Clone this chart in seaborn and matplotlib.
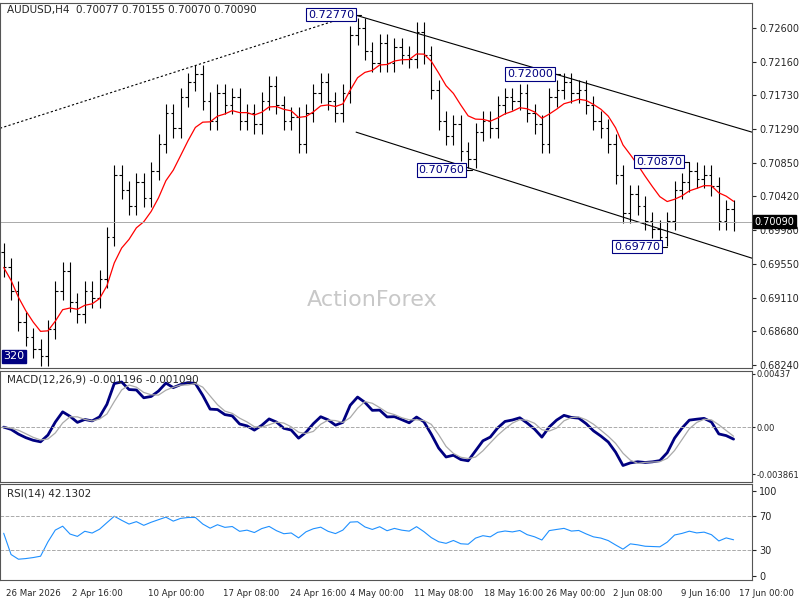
import matplotlib
matplotlib.use("Agg")
import matplotlib.pyplot as plt
import seaborn as sns
import pandas as pd
import numpy as np

sns.set_style("white")
plt.rcParams['font.family'] = ['DejaVu Sans']

# closing prices (compressed H4 bars)
closes = [0.6950, 0.6920, 0.6880, 0.6860, 0.6845, 0.6835,
          0.6870, 0.6920, 0.6945, 0.6905, 0.6890, 0.6920, 0.6910,
          0.6935, 0.6990, 0.7070,
          0.7050, 0.7030, 0.7060, 0.7040, 0.7075,
          0.7110, 0.7150, 0.7130, 0.7170, 0.7190,
          0.7200, 0.7165, 0.7140, 0.7175, 0.7160,
          0.7170, 0.7140, 0.7150, 0.7135, 0.7165,
          0.7185, 0.7160, 0.7140, 0.7145, 0.7110,
          0.7150, 0.7175, 0.7190, 0.7165, 0.7150,
          0.7175, 0.7250, 0.7260, 0.7230, 0.7215,
          0.7240, 0.7215, 0.7235, 0.7225, 0.7220,
          0.7255, 0.7225, 0.7180, 0.7140, 0.7120,
          0.7135, 0.7100, 0.7090, 0.7125, 0.7140,
          0.7130, 0.7160, 0.7170, 0.7165, 0.7175,
          0.7150, 0.7135, 0.7110, 0.7170, 0.7180,
          0.7190, 0.7175, 0.7180, 0.7160, 0.7140,
          0.7130, 0.7110, 0.7070, 0.7020, 0.7045,
          0.7030, 0.7010, 0.7000, 0.6990, 0.7010,
          0.7050, 0.7060, 0.7075, 0.7065, 0.7070,
          0.7055, 0.7010, 0.7025, 0.7009]
price_ticks = [0.72600, 0.72160, 0.71730, 0.71290, 0.70850, 0.70420,
               0.69980, 0.69550, 0.69110, 0.68680, 0.68240]
date_labels = ["26 Mar 2026", "2 Apr 16:00", "10 Apr 00:00", "17 Apr 08:00",
               "24 Apr 16:00", "4 May 00:00", "11 May 08:00", "18 May 16:00",
               "26 May 00:00", "2 Jun 08:00", "9 Jun 16:00", "17 Jun 00:00"]
date_pos = [0.3, 9.2, 19.6, 29.7, 38.9, 47.0, 55.7, 65.1, 73.5, 82.6, 91.9, 99.7]
levels = [(47.5, 0.7277, "0.72770"), (62.5, 0.7076, "0.70760"),
          (74.5, 0.7200, "0.72000"), (89.0, 0.6977, "0.69770"),
          (92.0, 0.7087, "0.70870")]

n = len(closes)
df = pd.DataFrame({"bar": np.arange(n), "close": closes})
df["open"] = df["close"].shift(1).fillna(closes[0] + 0.002)
df["high"] = df[["open", "close"]].max(axis=1) + 0.0012
df["low"] = df[["open", "close"]].min(axis=1) - 0.0012
df["ma"] = df["close"].ewm(span=9).mean()
ema_f = df["close"].ewm(span=4).mean()
ema_s = df["close"].ewm(span=8).mean()
df["macd"] = ema_f - ema_s
df["signal"] = df["macd"].rolling(3, min_periods=1).mean()
delta = df["close"].diff().fillna(0)
up = delta.clip(lower=0).ewm(alpha=1 / 8).mean() + 0.0008
dn = (-delta.clip(upper=0)).ewm(alpha=1 / 8).mean() + 0.0008
df["rsi"] = 100 - 100 / (1 + up / dn)

W, H = 800, 600
fig = plt.figure(figsize=(8, 6), dpi=100)
x0, x1 = 0, 752
def box(top, bot):
    return [x0 / W, 1 - bot / H, (x1 - x0) / W, (bot - top) / H]
ax = fig.add_axes(box(3, 368))
axm = fig.add_axes(box(371, 482), sharex=ax)
axr = fig.add_axes(box(484, 580), sharex=ax)
xlim = (-0.5, 101.5)

# price bars
ax.vlines(df["bar"], df["low"], df["high"], color="black", lw=0.8)
ax.hlines(df["open"], df["bar"] - 0.35, df["bar"], color="black", lw=0.8)
ax.hlines(df["close"], df["bar"], df["bar"] + 0.35, color="black", lw=0.8)
sns.lineplot(data=df, x="bar", y="ma", ax=ax, color="red", lw=0.9)
ax.plot([-0.5, 47.5], [0.7130, 0.7277], ls=(0, (2, 2)), color="black", lw=0.8)
ax.plot([47.5, 101.5], [0.7277, 0.7125], color="black", lw=0.8)
ax.plot([47.8, 101.5], [0.7125, 0.6962], color="black", lw=0.8)
ax.axhline(closes[-1], color="#aaaaaa", lw=0.7)
for bx, by, txt in levels:
    ax.plot([bx - 2, bx + 1], [by, by], color="black", lw=0.8)
    ax.text(bx, by, txt, ha="right", va="center", fontsize=8, color="#000080",
            bbox=dict(boxstyle="square,pad=0.15", fc="white", ec="#000080", lw=0.8))
ax.text(0, 0.6835, "320", fontsize=8, color="white", va="center",
        bbox=dict(boxstyle="square,pad=0.15", fc="#000080", ec="#000080"))
ax.text(50, 0.6908, "ActionForex", fontsize=16, color="#c8c8c8",
        ha="center", va="center")
ax.text(0.5, 0.7290, "AUDUSD,H4  0.70077 0.70155 0.70070 0.70090", fontsize=7.5,
        va="top", ha="left")
ax.set_ylim(0.6820, 0.7292)
ax.set_yticks(price_ticks)
ax.set_yticklabels([f"{v:.5f}" for v in price_ticks])
ax.text(1.003, (closes[-1] - 0.6820) / (0.7292 - 0.6820), f"{closes[-1]:.5f}",
        transform=ax.transAxes, fontsize=7, color="white", va="center",
        bbox=dict(boxstyle="square,pad=0.15", fc="black", ec="black"))

# MACD
sns.lineplot(data=df, x="bar", y="macd", ax=axm, color="#000080", lw=2)
sns.lineplot(data=df, x="bar", y="signal", ax=axm, color="#aaaaaa", lw=0.9)
axm.axhline(0, color="#aaaaaa", lw=0.7, ls="--")
axm.set_ylim(-0.0045, 0.0046)
axm.set_yticks([0.00437, 0.0, -0.003861])
axm.set_yticklabels(["0.00437", "0.00", "-0.003861"])
axm.text(0.5, 0.0043, "MACD(12,26,9) -0.001196 -0.001090", fontsize=7.5, va="top")

# RSI
sns.lineplot(data=df, x="bar", y="rsi", ax=axr, color="#1e90ff", lw=0.8)
for lv in (70, 30):
    axr.axhline(lv, color="#aaaaaa", lw=0.7, ls="--")
axr.set_ylim(-5, 108)
axr.set_yticks([100, 70, 30, 0])
axr.text(0.5, 103, "RSI(14) 42.1302", fontsize=7.5, va="top")

for a in (ax, axm, axr):
    a.set_xlim(xlim)
    a.set_xlabel("")
    a.set_ylabel("")
    a.yaxis.tick_right()
    a.tick_params(axis="y", labelsize=7, length=3, pad=2)
    a.tick_params(axis="x", labelsize=6.2, length=3)
    for s in a.spines.values():
        s.set_color("#555555")
        s.set_linewidth(0.8)
axm.tick_params(axis="y", labelsize=6, length=2, pad=1)
ax.tick_params(axis="x", labelbottom=False)
axm.tick_params(axis="x", labelbottom=False)
axr.set_xticks(date_pos)
axr.set_xticklabels(date_labels, ha="left")

fig.savefig("out.png", dpi=100)
